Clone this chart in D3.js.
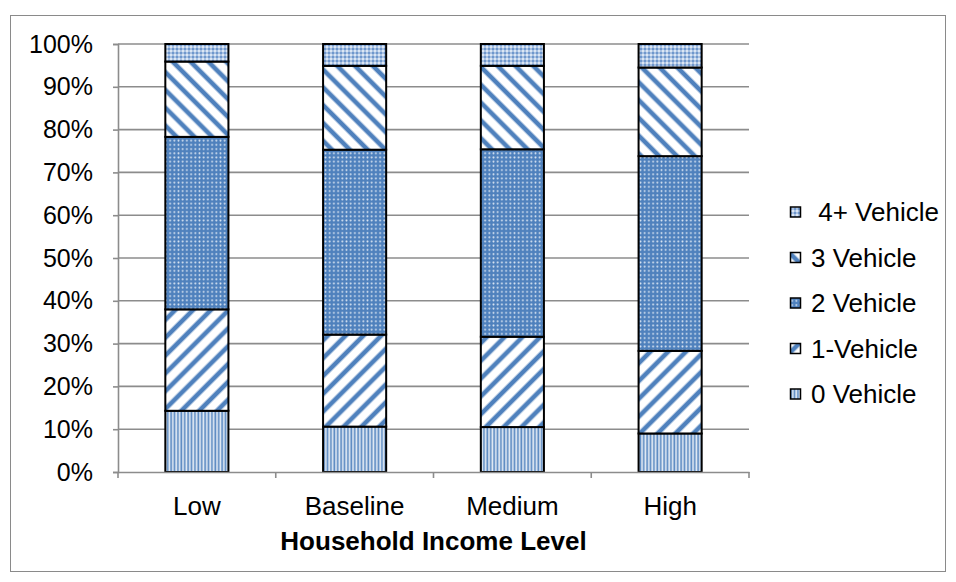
<!DOCTYPE html>
<html>
<head>
<meta charset="utf-8">
<script src="https://cdn.jsdelivr.net/npm/d3@7"></script>
<style>
  html, body { margin: 0; padding: 0; background: #fff; }
  svg { display: block; font-family: "Liberation Sans", Arial, sans-serif; }
  text { white-space: pre; }
</style>
</head>
<body>
<svg id="chart" width="956" height="582"></svg>
<script>
// Vehicle ownership share by household income level (percent of households)
const categories = ["Low", "Baseline", "Medium", "High"];
const seriesNames = ["0 Vehicle", "1-Vehicle", "2 Vehicle", "3 Vehicle", " 4+ Vehicle"];
const veh0  = [14.3, 10.6, 10.5, 9.0];
const veh1  = [23.7, 21.5, 21.1, 19.3];
const veh2  = [40.3, 43.2, 43.8, 45.5];
const veh3  = [17.6, 19.6, 19.5, 20.7];
const veh4p = [4.1, 5.1, 5.1, 5.5];
const yTicks = [0, 10, 20, 30, 40, 50, 60, 70, 80, 90, 100];
const xTitle = "Household Income Level";

const seriesValues = [veh0, veh1, veh2, veh3, veh4p];
const rows = categories.map((c, i) => {
  const r = { cat: c };
  seriesNames.forEach((s, k) => { r[s] = seriesValues[k][i]; });
  return r;
});

const svg = d3.select("#chart");
const blue = "#4f81bd";

// ---- fill patterns ----
const defs = svg.append("defs");

// vertical pinstripes
const p0 = defs.append("pattern").attr("id", "pat0").attr("patternUnits", "userSpaceOnUse")
  .attr("width", 3.4).attr("height", 8);
p0.append("rect").attr("width", 3.4).attr("height", 8).attr("fill", "#e3ebf5");
p0.append("rect").attr("x", 0.3).attr("width", 1.7).attr("height", 8).attr("fill", blue).attr("opacity", 0.9);

// wide diagonal stripes
function diag(id, angle) {
  const p = defs.append("pattern").attr("id", id).attr("patternUnits", "userSpaceOnUse")
    .attr("width", 12.6).attr("height", 12.6)
    .attr("patternTransform", `rotate(${angle})`);
  p.append("rect").attr("width", 12.6).attr("height", 12.6).attr("fill", "#fff");
  p.append("rect").attr("x", 0).attr("width", 5.8).attr("height", 12.6).attr("fill", blue).attr("opacity", 0.35);
  p.append("rect").attr("x", 0.9).attr("width", 4).attr("height", 12.6).attr("fill", blue);
}
diag("pat1", 45);
diag("pat3", -45);

// dense dots on blue
const p2 = defs.append("pattern").attr("id", "pat2").attr("patternUnits", "userSpaceOnUse")
  .attr("width", 4.2).attr("height", 4.2);
p2.append("rect").attr("width", 4.2).attr("height", 4.2).attr("fill", blue);
p2.append("circle").attr("cx", 2.1).attr("cy", 2.1).attr("r", 0.95).attr("fill", "#d6e2f1");

// light checker
const p4 = defs.append("pattern").attr("id", "pat4").attr("patternUnits", "userSpaceOnUse")
  .attr("width", 4).attr("height", 4);
p4.append("rect").attr("width", 4).attr("height", 4).attr("fill", "#a9c1e2");
p4.append("rect").attr("x", 0).attr("y", 0).attr("width", 2).attr("height", 2).attr("fill", "#6f97cc");
p4.append("rect").attr("x", 2).attr("y", 2).attr("width", 2).attr("height", 2).attr("fill", "#dbe6f4");

const fills = ["url(#pat0)", "url(#pat1)", "url(#pat2)", "url(#pat3)", "url(#pat4)"];

// ---- outer frame ----
svg.append("rect").attr("x", 10.5).attr("y", 15.5).attr("width", 935).attr("height", 556)
  .attr("fill", "none").attr("stroke", "#8a8a8a").attr("stroke-width", 1);

// ---- scales ----
const plot = { left: 118, right: 749, top: 44, bottom: 472 };
const x = d3.scaleBand().domain(categories).range([plot.left, plot.right]).padding(0);
const y = d3.scaleLinear().domain([0, 100]).range([plot.bottom, plot.top]);
const barW = x.bandwidth() * 0.4;

// gridlines
svg.append("g").selectAll("line").data(yTicks.filter(t => t > 0)).join("line")
  .attr("x1", plot.left).attr("x2", plot.right)
  .attr("y1", d => y(d)).attr("y2", d => y(d))
  .attr("stroke", "#8c8c8c").attr("stroke-width", 1.6);

// stacked bars
const stack = d3.stack().keys(seriesNames)(rows);
const layers = svg.append("g").selectAll("g").data(stack).join("g")
  .attr("fill", (d, i) => fills[i]);
layers.selectAll("rect").data(d => d).join("rect")
  .attr("x", d => x(d.data.cat) + (x.bandwidth() - barW) / 2)
  .attr("width", barW)
  .attr("y", d => y(d[1]))
  .attr("height", d => y(d[0]) - y(d[1]))
  .attr("stroke", "#000").attr("stroke-width", 2);

// y axis
const yAxis = svg.append("g").attr("transform", `translate(${plot.left},0)`)
  .call(d3.axisLeft(y).tickValues(yTicks).tickFormat(d => d + "%").tickSize(5).tickPadding(20));
yAxis.select(".domain").attr("stroke", "#8c8c8c").attr("stroke-width", 1.6);
yAxis.selectAll(".tick line").attr("stroke", "#8c8c8c").attr("stroke-width", 1.6);
yAxis.selectAll(".tick text").attr("font-size", 25).attr("fill", "#000")
  .attr("font-family", "Liberation Sans, Arial, sans-serif");

// x axis
const xAxis = svg.append("g").attr("transform", `translate(0,${plot.bottom})`)
  .call(d3.axisBottom(x).tickSize(0).tickPadding(25));
xAxis.select(".domain").attr("stroke", "#8c8c8c").attr("stroke-width", 1.6);
xAxis.selectAll(".tick text").attr("font-size", 26).attr("fill", "#000")
  .attr("font-family", "Liberation Sans, Arial, sans-serif");
const bounds = categories.map(c => x(c)).concat([plot.right]);
svg.append("g").selectAll("line").data(bounds).join("line")
  .attr("x1", d => d).attr("x2", d => d)
  .attr("y1", plot.bottom).attr("y2", plot.bottom + 6)
  .attr("stroke", "#8c8c8c").attr("stroke-width", 1.6);

// axis title
svg.append("text").attr("x", (plot.left + plot.right) / 2).attr("y", 550)
  .attr("text-anchor", "middle").attr("font-size", 26).attr("font-weight", "bold")
  .text(xTitle);

// legend (top entry is the top of the stack)
const legendOrder = seriesNames.map((s, i) => i).reverse();
const leg = svg.append("g").selectAll("g").data(legendOrder).join("g")
  .attr("transform", (d, j) => `translate(790,${212 + j * 45.5})`);
leg.append("rect").attr("x", 0.5).attr("y", -5).attr("width", 10).attr("height", 10)
  .attr("fill", d => fills[d]).attr("stroke", "#000").attr("stroke-width", 1.5);
leg.append("text").attr("x", 21).attr("y", 9).attr("font-size", 26)
  .text(d => seriesNames[d]);
</script>
</body>
</html>
